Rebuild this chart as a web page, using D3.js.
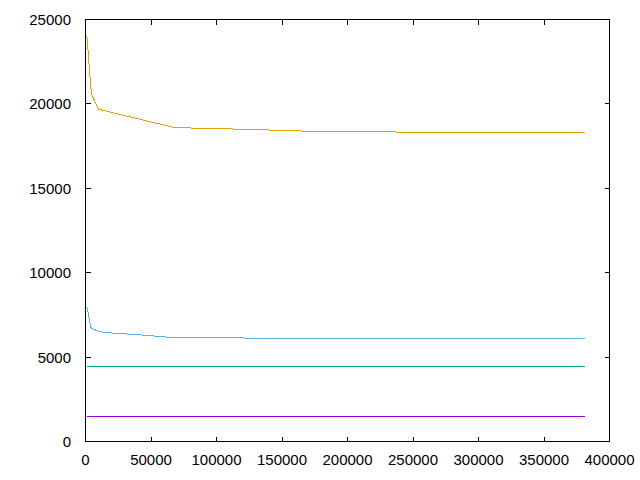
<!DOCTYPE html>
<html>
<head>
<meta charset="utf-8">
<script src="https://cdn.jsdelivr.net/npm/d3@7"></script>
<style>
body { margin: 0; background: #fff; }
svg { display: block; }
text { font-family: "Liberation Sans", Arial, sans-serif; font-size: 15px; fill: #000; }
</style>
</head>
<body>
<svg id="chart" width="640" height="480"></svg>
<script>
const xTicks = [0, 50000, 100000, 150000, 200000, 250000, 300000, 350000, 400000];
const yTicks = [0, 5000, 10000, 15000, 20000, 25000];

const purpleX = [1000, 381000];
const purpleY = [1463, 1463];

const greenX = [1000, 381000];
const greenY = [4425, 4425];

const blueX = [1000, 2000, 3000, 4000, 5000, 10000, 15000, 25000, 45000, 65000, 140000, 381000];
const blueY = [7950, 7650, 7200, 6780, 6700, 6520, 6460, 6400, 6300, 6165, 6120, 6085];

const orangeX = [1000, 2000, 3000, 4000, 5000, 10000, 68000, 120000, 184000, 290000, 381000];
const orangeY = [24050, 23100, 22050, 21000, 20500, 19680, 18595, 18500, 18350, 18320, 18285];

const seriesList = [
  { xs: purpleX, ys: purpleY, color: "#9400d3" },
  { xs: greenX, ys: greenY, color: "#009e73" },
  { xs: blueX, ys: blueY, color: "#56b4e9" },
  { xs: orangeX, ys: orangeY, color: "#e69f00" }
];

const svg = d3.select("#chart");
const L = 85.5, R = 609.5, T = 19.5, B = 441.5;
const x = d3.scaleLinear().domain([0, 400000]).range([L, R]);
const y = d3.scaleLinear().domain([0, 25000]).range([B, T]);
const tl = 5;

const g = svg.append("g");

// ticks (inward, mirrored)
xTicks.forEach(v => {
  const px = Math.round(x(v) - 0.5) + 0.5;
  if (v !== 0 && v !== 400000) {
    g.append("line").attr("x1", px).attr("x2", px).attr("y1", B).attr("y2", B - tl)
      .attr("stroke", "#000").attr("shape-rendering", "crispEdges");
    g.append("line").attr("x1", px).attr("x2", px).attr("y1", T).attr("y2", T + tl)
      .attr("stroke", "#000").attr("shape-rendering", "crispEdges");
  }
  g.append("text").attr("x", x(v)).attr("y", 465).attr("text-anchor", "middle").text(v);
});
yTicks.forEach(v => {
  const py = Math.round(y(v) - 0.5) + 0.5;
  if (v !== 0 && v !== 25000) {
    g.append("line").attr("x1", L).attr("x2", L + tl).attr("y1", py).attr("y2", py)
      .attr("stroke", "#000").attr("shape-rendering", "crispEdges");
    g.append("line").attr("x1", R).attr("x2", R - tl).attr("y1", py).attr("y2", py)
      .attr("stroke", "#000").attr("shape-rendering", "crispEdges");
  }
  g.append("text").attr("x", 71).attr("y", y(v) + 5.5).attr("text-anchor", "end").text(v);
});

// series
const line = d3.line().x(d => x(d[0])).y(d => y(d[1]));
seriesList.forEach(s => {
  const pts = s.xs.map((xv, i) => [xv, s.ys[i]]);
  g.append("path").attr("d", line(pts)).attr("fill", "none")
    .attr("stroke", s.color).attr("stroke-width", 1)
    .attr("shape-rendering", "crispEdges");
});

// border
g.append("rect").attr("x", L).attr("y", T).attr("width", R - L).attr("height", B - T)
  .attr("fill", "none").attr("stroke", "#000").attr("stroke-width", 1)
  .attr("shape-rendering", "crispEdges");
</script>
</body>
</html>
